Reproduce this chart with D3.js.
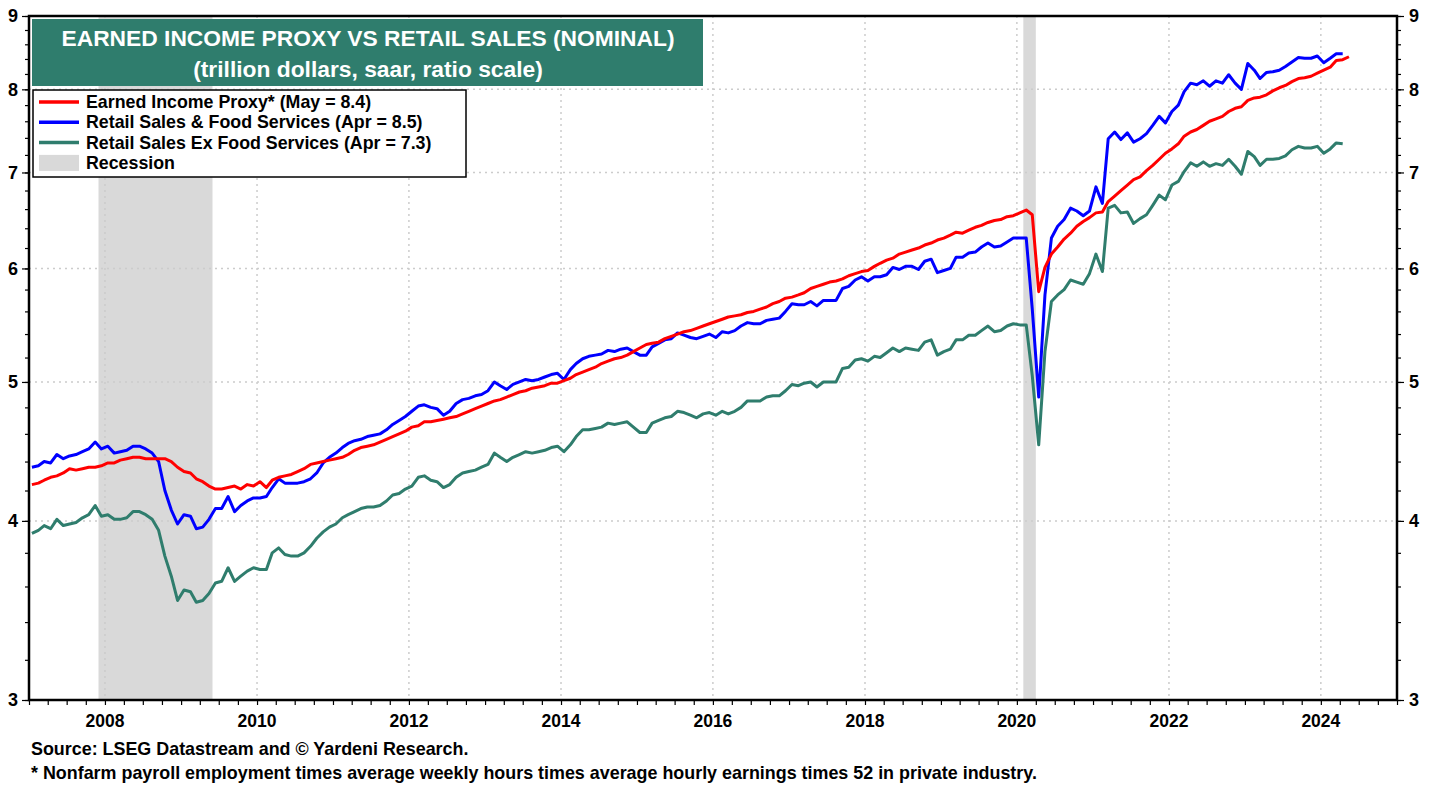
<!DOCTYPE html>
<html>
<head>
<meta charset="utf-8">
<script src="https://cdn.jsdelivr.net/npm/d3@7"></script>
<style>
  body { margin: 0; background: #fff; }
  svg text { font-family: "Liberation Sans", Arial, sans-serif; font-weight: bold; }
</style>
</head>
<body>
<div id="container"></div>
<script>
/* CONSTANTS AND GLOBALS */
const width = 1438,
  height = 787,
  margin = {top: 16, bottom: 87, left: 29, right: 41};

const teal = "#2f7d6d";

// monthly values, Jan 2007 onward (trillion $, saar)
const earnedIncome = [
  4.24,4.25,4.27,4.29,4.30,4.32,4.35,4.34,4.35,4.36,4.36,4.37, // 2007
  4.39,4.39,4.41,4.42,4.43,4.43,4.42,4.42,4.42,4.42,4.40,4.36, // 2008
  4.33,4.32,4.28,4.26,4.23,4.21,4.21,4.22,4.23,4.21,4.24,4.23, // 2009
  4.26,4.22,4.27,4.29,4.30,4.31,4.33,4.35,4.38,4.39,4.40,4.41, // 2010
  4.42,4.43,4.45,4.48,4.50,4.51,4.52,4.54,4.56,4.58,4.60,4.62, // 2011
  4.65,4.66,4.69,4.69,4.70,4.71,4.72,4.73,4.75,4.77,4.79,4.81, // 2012
  4.83,4.85,4.86,4.88,4.90,4.92,4.93,4.95,4.96,4.97,4.99,4.99, // 2013
  5.01,5.03,5.06,5.08,5.10,5.12,5.15,5.17,5.19,5.20,5.22,5.25, // 2014
  5.28,5.31,5.32,5.33,5.36,5.38,5.40,5.42,5.43,5.45,5.47,5.49, // 2015
  5.51,5.53,5.55,5.56,5.57,5.59,5.60,5.62,5.64,5.67,5.69,5.72, // 2016
  5.73,5.75,5.77,5.81,5.83,5.85,5.87,5.88,5.90,5.93,5.95,5.97, // 2017
  5.98,6.02,6.05,6.08,6.10,6.14,6.16,6.18,6.20,6.23,6.25,6.28, // 2018
  6.30,6.33,6.36,6.35,6.38,6.41,6.43,6.46,6.48,6.49,6.52,6.53, // 2019
  6.56,6.59,6.54,5.78,6.01,6.14,6.21,6.29,6.35,6.42,6.47,6.51, // 2020
  6.56,6.57,6.68,6.74,6.80,6.86,6.92,6.95,7.02,7.08,7.15,7.22, // 2021
  7.27,7.33,7.42,7.47,7.50,7.55,7.60,7.63,7.66,7.72,7.76,7.78, // 2022
  7.86,7.89,7.90,7.93,7.98,8.02,8.05,8.10,8.14,8.15,8.17,8.21, // 2023
  8.25,8.29,8.38,8.39,8.43                                     // 2024
];

const retailFood = [
  4.36,4.37,4.40,4.39,4.45,4.42,4.44,4.45,4.47,4.49,4.54,4.49, // 2007
  4.51,4.46,4.47,4.48,4.51,4.51,4.49,4.46,4.40,4.20,4.07,3.98, // 2008
  4.04,4.03,3.95,3.96,4.01,4.08,4.08,4.16,4.06,4.10,4.13,4.15, // 2009
  4.15,4.16,4.22,4.28,4.25,4.25,4.25,4.26,4.28,4.32,4.39,4.43, // 2010
  4.46,4.50,4.53,4.55,4.56,4.58,4.59,4.60,4.63,4.67,4.70,4.73, // 2011
  4.77,4.81,4.82,4.80,4.79,4.74,4.77,4.83,4.86,4.87,4.89,4.90, // 2012
  4.93,5.00,4.97,4.94,4.98,5.00,5.02,5.01,5.02,5.04,5.06,5.07, // 2013
  5.02,5.10,5.15,5.19,5.21,5.22,5.23,5.26,5.25,5.27,5.28,5.25, // 2014
  5.22,5.22,5.29,5.32,5.35,5.36,5.41,5.39,5.37,5.36,5.38,5.40, // 2015
  5.37,5.42,5.41,5.43,5.47,5.50,5.49,5.49,5.52,5.53,5.54,5.60, // 2016
  5.67,5.66,5.66,5.69,5.65,5.70,5.70,5.70,5.81,5.83,5.89,5.92, // 2017
  5.88,5.92,5.92,5.94,6.01,5.99,6.02,6.02,5.99,6.07,6.09,5.96, // 2018
  5.98,6.00,6.11,6.11,6.15,6.16,6.21,6.25,6.21,6.22,6.26,6.30, // 2019
  6.30,6.30,5.62,4.88,5.75,6.30,6.42,6.49,6.61,6.58,6.53,6.58, // 2020
  6.84,6.66,7.39,7.47,7.38,7.46,7.35,7.39,7.45,7.55,7.66,7.58, // 2021
  7.72,7.80,7.97,8.08,8.06,8.11,8.04,8.11,8.08,8.19,8.08,8.00, // 2022
  8.34,8.25,8.14,8.22,8.23,8.25,8.30,8.36,8.42,8.41,8.41,8.44, // 2023
  8.35,8.41,8.47,8.47                                          // 2024
];

const retailExFood = [
  3.92,3.94,3.97,3.95,4.01,3.97,3.98,3.99,4.02,4.04,4.10,4.03, // 2007
  4.04,4.01,4.01,4.02,4.06,4.06,4.04,4.01,3.94,3.78,3.66,3.52, // 2008
  3.58,3.57,3.51,3.52,3.56,3.62,3.63,3.71,3.63,3.66,3.69,3.71, // 2009
  3.70,3.70,3.80,3.83,3.79,3.78,3.78,3.80,3.84,3.89,3.93,3.96, // 2010
  3.98,4.02,4.04,4.06,4.08,4.09,4.09,4.10,4.13,4.17,4.18,4.21, // 2011
  4.23,4.29,4.30,4.27,4.26,4.22,4.24,4.29,4.32,4.33,4.34,4.36, // 2012
  4.38,4.46,4.43,4.40,4.43,4.45,4.47,4.46,4.47,4.48,4.50,4.51, // 2013
  4.47,4.52,4.58,4.63,4.63,4.64,4.65,4.68,4.67,4.68,4.69,4.65, // 2014
  4.61,4.61,4.68,4.70,4.72,4.73,4.77,4.76,4.74,4.72,4.75,4.76, // 2015
  4.74,4.77,4.75,4.77,4.80,4.85,4.85,4.85,4.88,4.89,4.89,4.93, // 2016
  4.98,4.97,4.99,5.00,4.96,5.00,5.00,5.00,5.11,5.12,5.18,5.19, // 2017
  5.17,5.21,5.20,5.24,5.28,5.25,5.28,5.27,5.26,5.33,5.35,5.22, // 2018
  5.25,5.27,5.35,5.35,5.39,5.39,5.43,5.47,5.42,5.43,5.47,5.49, // 2019
  5.48,5.48,5.05,4.52,5.25,5.69,5.75,5.80,5.89,5.87,5.85,5.95, // 2020
  6.14,5.97,6.61,6.64,6.56,6.57,6.45,6.50,6.54,6.64,6.75,6.70, // 2021
  6.86,6.90,7.01,7.11,7.07,7.12,7.07,7.10,7.08,7.15,7.07,6.98, // 2022
  7.24,7.18,7.08,7.15,7.15,7.16,7.19,7.26,7.30,7.28,7.28,7.30, // 2023
  7.22,7.27,7.34,7.33                                          // 2024
];

const recessions = [
  ["2007-12-01", "2009-06-01"],
  ["2020-02-01", "2020-04-01"]
];

const yTicks = [3, 4, 5, 6, 7, 8, 9];
const yearLabels = [2008, 2010, 2012, 2014, 2016, 2018, 2020, 2022, 2024];

const titleLines = [
  "EARNED INCOME PROXY VS RETAIL SALES (NOMINAL)",
  "(trillion dollars, saar, ratio scale)"
];

const series = [
  {name: "Earned Income Proxy* (May = 8.4)", values: earnedIncome, color: "#ff0000"},
  {name: "Retail Sales & Food Services (Apr = 8.5)", values: retailFood, color: "#0000ff"},
  {name: "Retail Sales Ex Food Services (Apr = 7.3)", values: retailExFood, color: teal}
];

const footnotes = [
  "Source: LSEG Datastream and \u00A9 Yardeni Research.",
  "* Nonfarm payroll employment times average weekly hours times average hourly earnings times 52 in private industry."
];

let svg, xScale, yScale;

/* INITIALIZING FUNCTION */
function init() {
  const parse = d3.timeParse("%Y-%m-%d");
  const x0 = margin.left, x1 = width - margin.right;
  const y0 = height - margin.bottom, y1 = margin.top;

  xScale = d3.scaleTime()
    .domain([new Date(2007, 0, 1), new Date(2025, 0, 1)])
    .range([x0, x1]);

  yScale = d3.scaleLog()
    .domain([3, 9])
    .range([y0, y1]);

  svg = d3.select("#container")
    .append("svg")
    .attr("width", width)
    .attr("height", height);

  // recession bars
  svg.selectAll("rect.recession")
    .data(recessions)
    .join("rect")
    .attr("class", "recession")
    .attr("x", d => xScale(parse(d[0])))
    .attr("width", d => xScale(parse(d[1])) - xScale(parse(d[0])))
    .attr("y", y1)
    .attr("height", y0 - y1)
    .attr("fill", "#d9d9d9");

  // dotted grid
  svg.selectAll("line.hgrid")
    .data(yTicks.slice(1, -1))
    .join("line")
    .attr("class", "hgrid")
    .attr("x1", x0).attr("x2", x1)
    .attr("y1", d => yScale(d)).attr("y2", d => yScale(d))
    .attr("stroke", "#cccccc")
    .attr("stroke-width", 1.5)
    .attr("stroke-dasharray", "2,4");

  svg.selectAll("line.vgrid")
    .data(yearLabels)
    .join("line")
    .attr("class", "vgrid")
    .attr("x1", d => xScale(new Date(d, 0, 1))).attr("x2", d => xScale(new Date(d, 0, 1)))
    .attr("y1", y1).attr("y2", y0)
    .attr("stroke", "#cccccc")
    .attr("stroke-width", 1.5)
    .attr("stroke-dasharray", "2,4");

  // + AXES
  const minor = d3.range(3, 9.001, 0.2);

  const yLeftMinor = d3.axisLeft(yScale).tickValues(minor).tickSize(4).tickFormat("");
  const yLeft = d3.axisLeft(yScale).tickValues(yTicks).tickSize(7).tickFormat(d3.format("d"));
  const yRightMinor = d3.axisRight(yScale).tickValues(minor).tickSize(4).tickFormat("");
  const yRight = d3.axisRight(yScale).tickValues(yTicks).tickSize(7).tickFormat(d3.format("d"));
  const xAxis = d3.axisBottom(xScale)
    .ticks(d3.timeMonth.every(3))
    .tickSize(5)
    .tickFormat("");

  const styleAxis = g => {
    g.select(".domain").remove();
    g.selectAll("line").attr("stroke", "#000").attr("stroke-width", 1.2);
    g.selectAll("text").attr("fill", "#000").style("font-size", "18px");
  };

  svg.append("g").attr("transform", `translate(${x0},0)`).call(yLeftMinor).call(styleAxis);
  svg.append("g").attr("transform", `translate(${x0},0)`).call(yLeft).call(styleAxis)
    .selectAll("text").attr("x", -11);
  svg.append("g").attr("transform", `translate(${x1},0)`).call(yRightMinor).call(styleAxis);
  svg.append("g").attr("transform", `translate(${x1},0)`).call(yRight).call(styleAxis)
    .selectAll("text").attr("x", 12);
  svg.append("g").attr("transform", `translate(0,${y0})`).call(xAxis).call(styleAxis);

  svg.selectAll("text.year")
    .data(yearLabels)
    .join("text")
    .attr("class", "year")
    .attr("x", d => xScale(new Date(d, 0, 1)))
    .attr("y", y0 + 27)
    .attr("text-anchor", "middle")
    .style("font-size", "17.5px")
    .text(d => d);

  // frame
  svg.append("rect")
    .attr("x", x0).attr("y", y1)
    .attr("width", x1 - x0).attr("height", y0 - y1)
    .attr("fill", "none")
    .attr("stroke", "#000")
    .attr("stroke-width", 2.5);

  draw();

  // + TITLE BOX
  svg.append("rect")
    .attr("x", 32).attr("y", 19)
    .attr("width", 671).attr("height", 67)
    .attr("fill", teal);

  svg.selectAll("text.title")
    .data(titleLines)
    .join("text")
    .attr("class", "title")
    .attr("x", 368)
    .attr("y", (d, i) => 46 + i * 31)
    .attr("text-anchor", "middle")
    .attr("fill", "#fff")
    .style("font-size", "22.8px")
    .text(d => d);

  // + LEGEND
  const legend = svg.append("g").attr("transform", "translate(33,90)");
  legend.append("rect")
    .attr("width", 433).attr("height", 87)
    .attr("fill", "#fff")
    .attr("stroke", "#000")
    .attr("stroke-width", 1.5);

  const items = series.map(s => ({name: s.name, color: s.color, type: "line"}))
    .concat([{name: "Recession", color: "#d9d9d9", type: "box"}]);

  const item = legend.selectAll("g.item")
    .data(items)
    .join("g")
    .attr("class", "item")
    .attr("transform", (d, i) => `translate(0,${12 + i * 20.3})`);

  item.filter(d => d.type === "line").append("line")
    .attr("x1", 6).attr("x2", 46)
    .attr("stroke", d => d.color)
    .attr("stroke-width", 3.5);

  item.filter(d => d.type === "box").append("rect")
    .attr("x", 6).attr("y", -8).attr("width", 40).attr("height", 16)
    .attr("fill", d => d.color);

  item.append("text")
    .attr("x", 53)
    .attr("y", 6)
    .style("font-size", "17.8px")
    .text(d => d.name);

  // + FOOTNOTES
  svg.selectAll("text.foot")
    .data(footnotes)
    .join("text")
    .attr("class", "foot")
    .attr("x", 31)
    .attr("y", (d, i) => 755 + i * 24)
    .style("font-size", "17.9px")
    .text(d => d);
}

/* DRAW FUNCTION */
function draw() {
  const line = d3.line()
    .x((d, i) => xScale(new Date(2007, i, 15)))
    .y(d => yScale(d));

  svg.selectAll("path.series")
    .data(series.slice().reverse())
    .join("path")
    .attr("class", "series")
    .attr("d", d => line(d.values))
    .attr("fill", "none")
    .attr("stroke", d => d.color)
    .attr("stroke-width", 3)
    .attr("stroke-linejoin", "round");
}

init();
</script>
</body>
</html>
